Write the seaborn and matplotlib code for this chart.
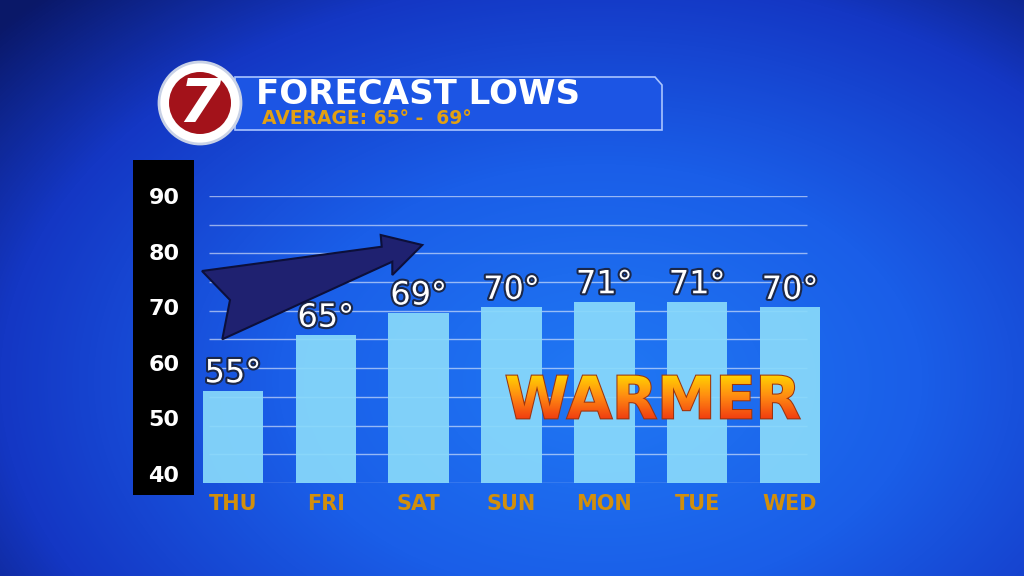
import numpy as np
import matplotlib
matplotlib.use('Agg')
import matplotlib.pyplot as plt
import matplotlib.patheffects as pe
from matplotlib.colors import LinearSegmentedColormap
from matplotlib.patches import Polygon, Circle, Rectangle, PathPatch
from matplotlib.textpath import TextPath
from matplotlib.font_manager import FontProperties
from matplotlib.transforms import Affine2D
import seaborn as sns

# --- data ---
days = ['THU', 'FRI', 'SAT', 'SUN', 'MON', 'TUE', 'WED']
lows = [55, 65, 69, 70, 71, 71, 70]
y_ticks = [40, 50, 60, 70, 80, 90]
title = 'FORECAST LOWS'
subtitle = 'AVERAGE: 65° -  69°'
banner_word = 'WARMER'

# axis range used by the graphic (bars sit a little below 40)
y_min, y_max = 38.4, 90

sns.set_theme(style='white')
plt.rcParams['font.family'] = ['DejaVu Sans']

W, H = 1024, 576
fig = plt.figure(figsize=(W / 100, H / 100), dpi=100)

# --- background: blue radial glow ---
ax_bg = fig.add_axes([0, 0, 1, 1], zorder=0)
yy, xx = np.mgrid[0:H, 0:W]
d = np.sqrt(((xx - 600) / 640) ** 2 + ((yy - 380) / 430) ** 2)
bg_cmap = LinearSegmentedColormap.from_list(
    'bg', [(0, '#2078f4'), (0.4, '#1a5ee8'), (0.75, '#1437c4'), (1.0, '#0a1868')])
ax_bg.imshow(np.clip(d / 1.25, 0, 1), cmap=bg_cmap, extent=(0, W, H, 0), aspect='auto', vmin=0, vmax=1)
ax_bg.set_xlim(0, W)
ax_bg.set_ylim(H, 0)
ax_bg.axis('off')

# black panel behind the y labels
ax_bg.add_patch(Rectangle((133, 160), 61, 335, facecolor='black', edgecolor='none'))

# --- chart ---
ax = fig.add_axes([186.5 / W, 1 - 483 / H, 650 / W, 287 / H], zorder=1)
ax.patch.set_alpha(0)

grid_vals = np.linspace(y_min, y_max, 11)
ax.hlines(grid_vals, 0.034, 0.955, transform=ax.get_yaxis_transform(),
          colors='white', alpha=0.55, lw=1, zorder=0)

sns.barplot(x=days, y=lows, ax=ax, color='#88d9fb', saturation=1, width=0.65,
            alpha=0.93, linewidth=0, edgecolor='none', zorder=2)

for i, v in enumerate(lows):
    ax.annotate(f'{v}°', (i, v), xytext=(0, 1), textcoords='offset points',
                ha='center', va='bottom', fontsize=23, color='white', zorder=4,
                path_effects=[pe.withStroke(linewidth=3, foreground='#1b2748')])

ax.set_xlim(-0.5, 6.5)
ax.set_ylim(y_min, y_max)
ax.set_yticks(y_ticks)
ax.set_yticklabels([str(t) for t in y_ticks], color='white', fontsize=16, fontweight='bold')
ax.set_xticks(range(len(days)))
ax.set_xticklabels(days, color='#d28f0c', fontsize=15, fontweight='bold')
ax.tick_params(axis='y', length=0, pad=5)
ax.tick_params(axis='x', length=0, pad=8)
ax.set_xlabel('')
ax.set_ylabel('')
sns.despine(ax=ax, left=True, bottom=True)

# --- overlay: header, logo, arrow, WARMER ---
ax_top = fig.add_axes([0, 0, 1, 1], zorder=3)
ax_top.set_xlim(0, W)
ax_top.set_ylim(H, 0)
ax_top.axis('off')

banner = Polygon([(235, 77), (655, 77), (662, 85), (662, 130), (235, 130)],
                 closed=True, facecolor='#1c55e4', edgecolor='#a9c4ff', lw=1.2)
ax_top.add_patch(banner)
ax_top.text(256, 94, title, color='white', fontsize=24.5, fontweight='bold', ha='left', va='center')
ax_top.text(262, 118, subtitle, color='#e2a012', fontsize=13.5, fontweight='bold', ha='left', va='center')

ax_top.add_patch(Circle((200, 103), 41, facecolor='white', edgecolor='#c9d2e6', lw=2))
ax_top.add_patch(Circle((200, 103), 31, facecolor='#a3121a', edgecolor='none'))
ax_top.text(199, 105, '7', color='white', fontsize=44, fontweight='bold', fontstyle='italic',
            ha='center', va='center')

arrow = Polygon([(202, 271), (381.7, 246.7), (380.7, 235), (422.3, 245), (392.3, 275),
                 (392.3, 261.7), (222.3, 339.3), (230, 300)],
                closed=True, facecolor='#1f2170', edgecolor='#0c0f3a', lw=1.5)
ax_top.add_patch(arrow)

# WARMER with yellow-to-red gradient fill
tp = TextPath((0, 0), banner_word, size=60, prop=FontProperties(family='DejaVu Sans', weight='bold'))
bb = tp.get_extents()
s = 293 / bb.width
tr = Affine2D().translate(-bb.x0 - bb.width / 2, -bb.y0 - bb.height / 2).scale(s, -s).translate(653, 397)
x0, x1 = 653 - 150, 653 + 150
y0, y1 = 397 - bb.height * s / 2 - 2, 397 + bb.height * s / 2 + 2
outline = PathPatch(tr.transform_path(tp), facecolor='none', edgecolor='#9a3410', lw=1.5, zorder=5)
clip = PathPatch(tr.transform_path(tp), facecolor='none', edgecolor='none')
ax_top.add_patch(clip)
grad_cmap = LinearSegmentedColormap.from_list('warm', ['#ffd800', '#ff8a12', '#f03a10'])
im = ax_top.imshow(np.linspace(0, 1, 64).reshape(-1, 1), cmap=grad_cmap,
                   extent=(x0, x1, y1, y0), aspect='auto', zorder=6)
im.set_clip_path(clip)
ax_top.add_patch(outline)
ax_top.set_xlim(0, W)
ax_top.set_ylim(H, 0)

fig.savefig('out.png', dpi=100)
